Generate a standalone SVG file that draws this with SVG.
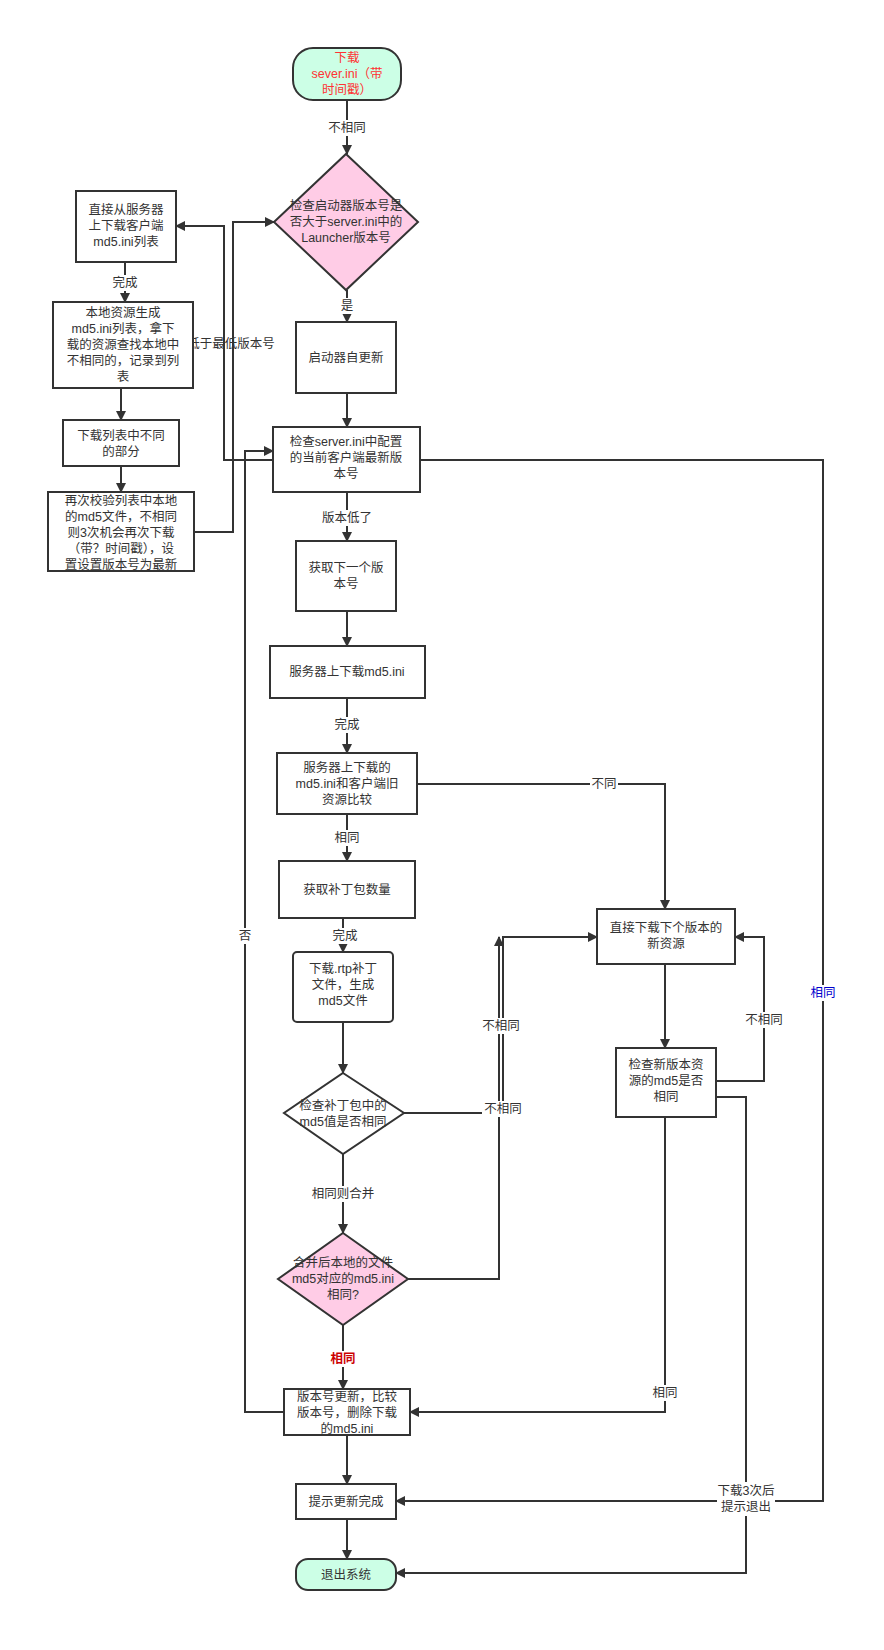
<svg xmlns="http://www.w3.org/2000/svg" width="884" height="1650" viewBox="0 0 884 1650">
<style>
text{font-family:"Liberation Sans","Noto Sans CJK SC",sans-serif;font-size:12.5px;fill:#333;text-anchor:middle}
.n{fill:#fff;stroke:#333;stroke-width:2}
.t{fill:#ccffe6;stroke:#333;stroke-width:2}
.d{fill:#ffcce6;stroke:#333;stroke-width:2}
.c{fill:none;stroke:#333;stroke-width:2;marker-end:url(#a)}
.l{fill:#fff;stroke:none}
</style>
<defs><marker id="a" markerWidth="10" markerHeight="10" refX="9" refY="5" orient="auto" markerUnits="userSpaceOnUse"><path d="M0,0L10,5L0,10z" fill="#333"/></marker></defs>
<rect width="884" height="1650" fill="#fff"/>
<g id="connectors">
<path class="c" d="M347,100V154"/>
<path class="c" d="M347,290V322"/>
<path class="c" d="M347,393V427"/>
<path class="c" d="M347,492V541"/>
<path class="c" d="M347,611V646"/>
<path class="c" d="M347,698V753"/>
<path class="c" d="M347,814V861"/>
<path class="c" d="M343,918V952"/>
<path class="c" d="M343,1022V1073"/>
<path class="c" d="M343,1154V1233"/>
<path class="c" d="M343,1325V1389"/>
<path class="c" d="M347,1435V1484"/>
<path class="c" d="M347,1519V1559"/>
<path class="c" d="M125,262V302"/>
<path class="c" d="M121,388V420"/>
<path class="c" d="M121,466V492"/>
<path class="c" d="M194,532H233V222H274"/>
<path class="c" d="M273,460H224V226H176"/>
<path class="c" d="M284,1412H245V451H273"/>
<path class="c" d="M420,460H823V1501H396"/>
<path class="c" d="M417,784H665V909"/>
<path class="c" d="M404,1113H503V937H597"/>
<path class="c" d="M408,1279H499V937"/>
<path class="c" d="M665,964V1048"/>
<path class="c" d="M716,1081H764V937H735"/>
<path class="c" d="M716,1097H746V1573H396"/>
<path class="c" d="M665,1117V1412H410"/>
<g>
<rect class="l" x="326" y="120" width="42" height="16"/><text x="347" y="132">不相同</text>
<rect class="l" x="339" y="298" width="16" height="16"/><text x="347" y="310">是</text>
<rect class="l" x="318" y="510" width="58" height="16"/><text x="347" y="522">版本低了</text>
<rect class="l" x="111" y="275" width="28" height="16"/><text x="125" y="287">完成</text>
<text x="231" y="348">低于最低版本号</text>
<rect class="l" x="333" y="717" width="28" height="16"/><text x="347" y="729">完成</text>
<rect class="l" x="590" y="776" width="28" height="16"/><text x="604" y="788">不同</text>
<rect class="l" x="333" y="830" width="28" height="16"/><text x="347" y="842">相同</text>
<rect class="l" x="331" y="928" width="28" height="16"/><text x="345" y="940">完成</text>
<rect class="l" x="237" y="928" width="16" height="16"/><text x="245" y="940">否</text>
<rect class="l" x="480" y="1018" width="42" height="16"/><text x="501" y="1030">不相同</text>
<rect class="l" x="482" y="1101" width="42" height="16"/><text x="503" y="1113">不相同</text>
<rect class="l" x="743" y="1012" width="42" height="16"/><text x="764" y="1024">不相同</text>
<rect class="l" x="808" y="985" width="30" height="16"/><text x="823" y="997" style="fill:#0000cc">相同</text>
<rect class="l" x="309" y="1186" width="68" height="16"/><text x="343" y="1198">相同则合并</text>
<rect class="l" x="328" y="1351" width="30" height="16"/><text x="343" y="1363" style="fill:#cc0000;font-weight:bold">相同</text>
<rect class="l" x="651" y="1385" width="28" height="16"/><text x="665" y="1397">相同</text>
<rect class="l" x="717" y="1482" width="58" height="34"/><text x="746" y="1495">下载3次后</text><text x="746" y="1511">提示退出</text>
</g>
</g>
<g id="start"><rect class="t" x="293" y="48" width="108" height="52" rx="20"/><text x="347" y="62" style="fill:#ff3333">下载</text><text x="347" y="78" style="fill:#ff3333">sever.ini（带</text><text x="347" y="94" style="fill:#ff3333">时间戳）</text></g>
<g id="d1"><path class="d" d="M346,154L418,222L346,290L274,222z"/><text x="346" y="210">检查启动器版本号是</text><text x="346" y="226">否大于server.ini中的</text><text x="346" y="242">Launcher版本号</text></g>
<g id="n_direct"><rect class="n" x="76" y="191" width="100" height="71"/><text x="126" y="214">直接从服务器</text><text x="126" y="230">上下载客户端</text><text x="126" y="246">md5.ini列表</text></g>
<g id="n_local"><rect class="n" x="53" y="302" width="140" height="86"/><text x="123" y="317">本地资源生成</text><text x="123" y="333">md5.ini列表，拿下</text><text x="123" y="349">载的资源查找本地中</text><text x="123" y="365">不相同的，记录到列</text><text x="123" y="381">表</text></g>
<g id="n_dlist"><rect class="n" x="63" y="420" width="116" height="46"/><text x="121" y="440">下载列表中不同</text><text x="121" y="456">的部分</text></g>
<g id="n_recheck"><rect class="n" x="48" y="492" width="146" height="79"/><text x="121" y="505">再次校验列表中本地</text><text x="121" y="521">的md5文件，不相同</text><text x="121" y="537">则3次机会再次下载</text><text x="121" y="553">（带？时间戳），设</text><text x="121" y="569">置设置版本号为最新</text></g>
<g id="n_self"><rect class="n" x="296" y="322" width="100" height="71"/><text x="346" y="362">启动器自更新</text></g>
<g id="n_server"><rect class="n" x="273" y="427" width="147" height="65"/><text x="346" y="446">检查server.ini中配置</text><text x="346" y="462">的当前客户端最新版</text><text x="346" y="478">本号</text></g>
<g id="n_next"><rect class="n" x="296" y="541" width="100" height="70"/><text x="346" y="572">获取下一个版</text><text x="346" y="588">本号</text></g>
<g id="n_md5"><rect class="n" x="270" y="646" width="155" height="52"/><text x="347" y="676">服务器上下载md5.ini</text></g>
<g id="n_cmp"><rect class="n" x="277" y="753" width="140" height="61"/><text x="347" y="772">服务器上下载的</text><text x="347" y="788">md5.ini和客户端旧</text><text x="347" y="804">资源比较</text></g>
<g id="n_count"><rect class="n" x="279" y="861" width="136" height="57"/><text x="347" y="894">获取补丁包数量</text></g>
<g id="n_rtp"><rect class="n" x="293" y="952" width="100" height="70" rx="4"/><text x="343" y="973">下载.rtp补丁</text><text x="343" y="989">文件，生成</text><text x="343" y="1005">md5文件</text></g>
<g id="d2"><path class="d" style="fill:#fff" d="M343,1073L404,1113L343,1154L284,1113z"/><text x="343" y="1110">检查补丁包中的</text><text x="343" y="1126">md5值是否相同</text></g>
<g id="d3"><path class="d" d="M343,1233L408,1279L343,1325L278,1279z"/><text x="343" y="1267">合并后本地的文件</text><text x="343" y="1283">md5对应的md5.ini</text><text x="343" y="1299">相同?</text></g>
<g id="n_ver"><rect class="n" x="284" y="1389" width="126" height="46"/><text x="347" y="1401">版本号更新，比较</text><text x="347" y="1417">版本号，删除下载</text><text x="347" y="1433">的md5.ini</text></g>
<g id="n_done"><rect class="n" x="296" y="1484" width="100" height="35"/><text x="346" y="1506">提示更新完成</text></g>
<g id="end"><rect class="t" x="296" y="1559" width="100" height="31" rx="12"/><text x="346" y="1579">退出系统</text></g>
<g id="n_direct2"><rect class="n" x="597" y="909" width="138" height="55"/><text x="666" y="932">直接下载下个版本的</text><text x="666" y="948">新资源</text></g>
<g id="n_check2"><rect class="n" x="616" y="1048" width="100" height="69"/><text x="666" y="1069">检查新版本资</text><text x="666" y="1085">源的md5是否</text><text x="666" y="1101">相同</text></g>
</svg>
